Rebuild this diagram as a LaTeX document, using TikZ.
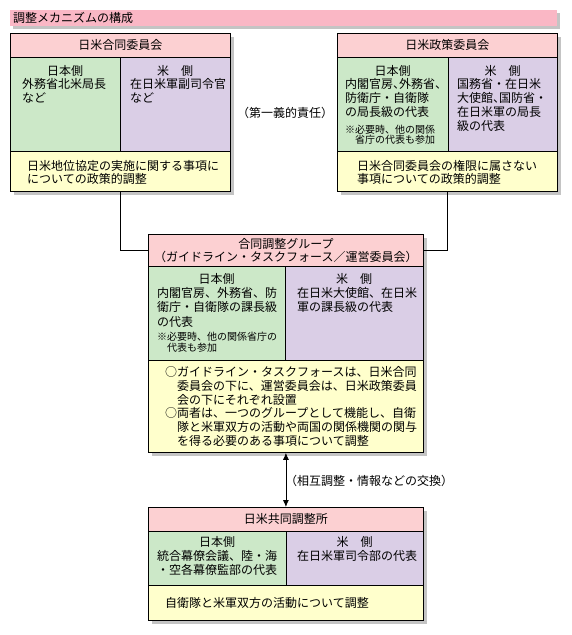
\documentclass[tikz,border=0pt]{standalone}
\usepackage{fontspec}
\setmainfont{Noto Sans CJK JP}
\usetikzlibrary{arrows.meta}
\definecolor{titlepink}{RGB}{250,183,197}
\definecolor{headpink}{RGB}{252,208,210}
\definecolor{jpgreen}{RGB}{204,232,200}
\definecolor{uspurple}{RGB}{218,206,230}
\definecolor{noteyellow}{RGB}{255,255,204}
\definecolor{shadowgray}{RGB}{196,196,196}
\newcommand\sidehead[1]{\makebox[\linewidth][c]{#1}}
\newcommand\nten{\makebox[6pt][l]{、}}
\tikzset{
  link/.style={black,line width=0.8pt},
  pairarrow/.style={{Latex[length=7pt,width=6pt]}-{Latex[length=7pt,width=6pt]},line width=0.8pt},
  boxshadow/.style={fill=shadowgray},
  titlebar/.style={anchor=north west,fill=titlepink,inner xsep=3pt,inner ysep=0pt,
                   text width=541pt,minimum height=16pt,align=left,font=\fontsize{12}{14}\selectfont},
  cell/.style={draw=black,line width=0.8pt,inner sep=0pt,anchor=north west,
               font=\fontsize{12}{14}\selectfont},
  headcell/.style={cell,fill=headpink,align=center},
  jpcell/.style={cell,fill=jpgreen},
  uscell/.style={cell,fill=uspurple},
  notecell/.style={cell,fill=noteyellow},
  celltext/.style={inner sep=0pt,anchor=base west,align=left,font=\fontsize{12}{13.8}\selectfont},
  smalltext/.style={celltext,font=\fontsize{10}{10.8}\selectfont},
  lab/.style={inner sep=0pt,font=\fontsize{12}{14}\selectfont},
}

\begin{document}
\begin{tikzpicture}[x=1pt,y=-1pt]
  \fill[white] (0,0) rectangle (572,635);
  \path[use as bounding box] (0,0) rectangle (572,635);

  % title
  \fill[boxshadow] (13,13) rectangle (560,29);
  \node[titlebar] (title) at (10,10) {調整メカニズムの構成};

  % 日米合同委員会
  \fill[boxshadow] (14,37) rectangle (234,195);
  \node[headcell,minimum width=220pt,minimum height=24pt] (jcHead) at (10,33) {日米合同委員会};
  \node[jpcell,minimum width=110pt,minimum height=94pt] (jcJp) at (10,57) {};
  \node[uscell,minimum width=110pt,minimum height=94pt] (jcUs) at (120,57) {};
  \node[notecell,minimum width=220pt,minimum height=40pt] (jcNote) at (10,151) {};
  \node[celltext,text width=86pt] (jcJpText) at (22,75)
    {\sidehead{日本側}\\外務省北米局長\\など};
  \node[celltext,text width=90pt] (jcUsText) at (130,75)
    {\sidehead{米　側}\\在日米軍副司令官\\など};
  \node[celltext,text width=200pt] (jcNoteText) at (27,170)
    {日米地位協定の実施に関する事項に\\についての政策的調整};

  % 日米政策委員会
  \fill[boxshadow] (341,37) rectangle (561,195);
  \node[headcell,minimum width=220pt,minimum height=24pt] (pcHead) at (337,33) {日米政策委員会};
  \node[jpcell,minimum width=111pt,minimum height=94pt] (pcJp) at (337,57) {};
  \node[uscell,minimum width=109pt,minimum height=94pt] (pcUs) at (448,57) {};
  \node[notecell,minimum width=220pt,minimum height=40pt] (pcNote) at (337,151) {};
  \node[celltext,text width=95pt] (pcJpText) at (345,75)
    {\sidehead{日本側}\\内閣官房\nten 外務省\nten\\防衛庁・自衛隊\\の局長級の代表};
  \node[smalltext,text width=95pt] (pcJpMemo) at (345,133)
    {※必要時、他の関係\\\hspace*{1em}省庁の代表も参加};
  \node[celltext,text width=91pt] (pcUsText) at (457,75)
    {\sidehead{米　側}\\国務省・在日米\\大使館\nten 国防省・\\在日米軍の局長\\級の代表};
  \node[celltext,text width=195pt] (pcNoteText) at (357,170)
    {日米合同委員会の権限に属さない\\事項についての政策的調整};

  \node[lab] (dutyLab) at (285,113) {（第一義的責任）};

  % 合同調整グループ
  \fill[boxshadow] (152,238) rectangle (427,456);
  \node[headcell,minimum width=275pt,minimum height=32pt,font=\fontsize{12}{13}\selectfont] (grpHead) at (148,234)
    {合同調整グループ\\（ガイドライン・タスクフォース／運営委員会）};
  \node[jpcell,minimum width=137pt,minimum height=94pt] (grpJp) at (148,266) {};
  \node[uscell,minimum width=138pt,minimum height=94pt] (grpUs) at (285,266) {};
  \node[notecell,minimum width=275pt,minimum height=92pt] (grpNote) at (148,360) {};
  \node[celltext,text width=119pt,font=\fontsize{12}{14.2}\selectfont] (grpJpText) at (157,283.5)
    {\sidehead{日本側}\\内閣官房、外務省、防\\衛庁・自衛隊の課長級\\の代表};
  \node[smalltext,text width=119pt] (grpJpMemo) at (157,340.5)
    {※必要時、他の関係省庁の\\\hspace*{1em}代表も参加};
  \node[celltext,text width=114pt,font=\fontsize{12}{14.2}\selectfont] (grpUsText) at (297,283.5)
    {\sidehead{米　側}\\在日米大使館、在日米\\軍の課長級の代表};
  \node[celltext,text width=255pt] (grpNoteText) at (165,376.5)
    {○ガイドライン・タスクフォースは、日米合同\\
     \hspace*{1em}委員会の下に、運営委員会は、日米政策委員\\
     \hspace*{1em}会の下にそれぞれ設置\\
     ○両者は、一つのグループとして機能し、自衛\\
     \hspace*{1em}隊と米軍双方の活動や両国の関係機関の関与\\
     \hspace*{1em}を得る必要のある事項について調整};

  \draw[link] (jcNote.south) |- (grpHead.west);
  \draw[link] (pcNote.south) |- (grpHead.east);

  % 日米共同調整所
  \fill[boxshadow] (152,511) rectangle (427,624);
  \node[headcell,minimum width=275pt,minimum height=24pt] (jccHead) at (148,507) {日米共同調整所};
  \node[jpcell,minimum width=138pt,minimum height=54pt] (jccJp) at (148,531) {};
  \node[uscell,minimum width=137pt,minimum height=54pt] (jccUs) at (286,531) {};
  \node[notecell,minimum width=275pt,minimum height=35pt] (jccNote) at (148,585) {};
  \node[celltext,text width=120pt,font=\fontsize{12}{14.3}\selectfont] (jccJpText) at (157,546)
    {\sidehead{日本側}\\統合幕僚会議、陸・海\\・空各幕僚監部の代表};
  \node[celltext,text width=115pt,font=\fontsize{12}{14.3}\selectfont] (jccUsText) at (297,546)
    {\sidehead{米　側}\\在日米軍司令部の代表};
  \node[celltext,text width=250pt] (jccNoteText) at (165,607)
    {自衛隊と米軍双方の活動について調整};

  \draw[pairarrow] (grpNote.south) -- (jccHead.north);
  \node[lab,anchor=west] (xchgLab) at (285,481) {（相互調整・情報などの交換）};
\end{tikzpicture}
\end{document}
